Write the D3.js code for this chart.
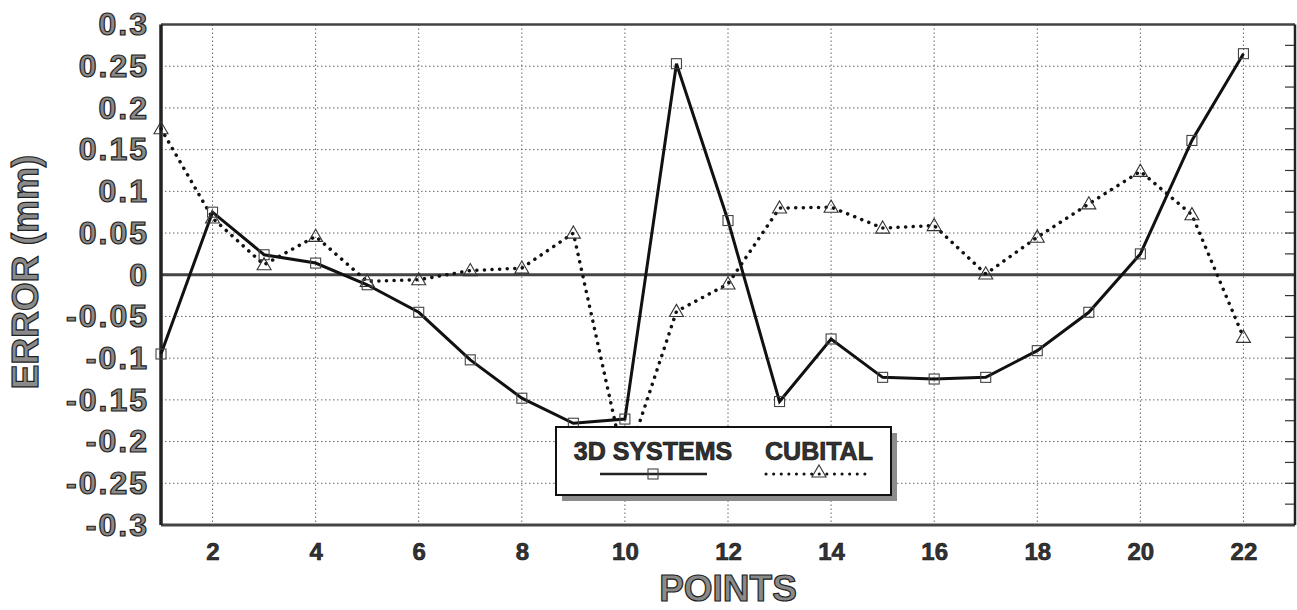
<!DOCTYPE html>
<html>
<head>
<meta charset="utf-8">
<script src="https://cdn.jsdelivr.net/npm/d3@7"></script>
<style>
  body { margin: 0; background: #fff; }
  svg text { font-family: "Liberation Sans", Arial, sans-serif; font-weight: bold; }
</style>
</head>
<body>
<div id="chart"></div>
<script>
const width = 1297;
const height = 610;

// data
const points = d3.range(1, 23);
const systems3d = [-0.095, 0.075, 0.024, 0.014, -0.012, -0.045, -0.102, -0.148, -0.178, -0.173, 0.253,
  0.065, -0.152, -0.077, -0.123, -0.125, -0.123, -0.091, -0.045, 0.025, 0.161, 0.265];
const cubital = [0.175, 0.068, 0.012, 0.046, -0.008, -0.006, 0.005, 0.008, 0.05, -0.23, -0.044,
  -0.011, 0.08, 0.081, 0.056, 0.059, 0.001, 0.045, 0.085, 0.124, 0.072, -0.075];
const xTicks = [2, 4, 6, 8, 10, 12, 14, 16, 18, 20, 22];
const yTicks = [0.3, 0.25, 0.2, 0.15, 0.1, 0.05, 0, -0.05, -0.1, -0.15, -0.2, -0.25, -0.3];
const yTickLabels = ["0.3", "0.25", "0.2", "0.15", "0.1", "0.05", "0", "-0.05", "-0.1", "-0.15", "-0.2", "-0.25", "-0.3"];
const seriesNames = ["3D SYSTEMS", "CUBITAL"];

const plotLeft = 161, plotRight = 1295, plotTop = 24.5, plotBottom = 525;

const svg = d3.select("#chart")
  .append("svg")
  .attr("width", width)
  .attr("height", height);

const x = d3.scaleLinear().domain([1, 23]).range([plotLeft, plotRight]);
const y = d3.scaleLinear().domain([-0.3, 0.3]).range([plotBottom, plotTop]);

// grid lines
svg.append("g")
  .selectAll("line")
  .data(xTicks)
  .enter().append("line")
  .attr("x1", d => x(d)).attr("x2", d => x(d))
  .attr("y1", plotTop).attr("y2", plotBottom)
  .attr("stroke", "#666").attr("stroke-width", 1)
  .attr("stroke-dasharray", "1.5 2.5");

svg.append("g")
  .selectAll("line")
  .data(yTicks.filter(d => d !== 0))
  .enter().append("line")
  .attr("x1", plotLeft).attr("x2", plotRight)
  .attr("y1", d => y(d)).attr("y2", d => y(d))
  .attr("stroke", "#666").attr("stroke-width", 1)
  .attr("stroke-dasharray", "1.5 2.5");

// minor ticks on right border
svg.append("g")
  .selectAll("line")
  .data(d3.range(-0.275, 0.3, 0.025))
  .enter().append("line")
  .attr("x1", plotRight - 10).attr("x2", plotRight)
  .attr("y1", d => y(d)).attr("y2", d => y(d))
  .attr("stroke", "#333").attr("stroke-width", 1.2);

// zero line
svg.append("line")
  .attr("x1", plotLeft).attr("x2", plotRight)
  .attr("y1", y(0)).attr("y2", y(0))
  .attr("stroke", "#444").attr("stroke-width", 3);

// frame
svg.append("line").attr("x1", plotLeft).attr("x2", plotRight).attr("y1", plotTop).attr("y2", plotTop)
  .attr("stroke", "#444").attr("stroke-width", 2.5);
svg.append("line").attr("x1", plotLeft).attr("x2", plotRight).attr("y1", plotBottom).attr("y2", plotBottom)
  .attr("stroke", "#444").attr("stroke-width", 3);
svg.append("line").attr("x1", plotLeft).attr("x2", plotLeft).attr("y1", plotTop).attr("y2", plotBottom)
  .attr("stroke", "#222").attr("stroke-width", 3.5);
svg.append("line").attr("x1", plotRight).attr("x2", plotRight).attr("y1", plotTop).attr("y2", plotBottom)
  .attr("stroke", "#222").attr("stroke-width", 2.5);

// axes labels via d3 axes
const yAxis = d3.axisLeft(y)
  .tickValues(yTicks)
  .tickSize(0)
  .tickPadding(0)
  .tickFormat((d, i) => yTickLabels[i]);

const yG = svg.append("g")
  .attr("transform", `translate(${plotLeft - 14},0)`)
  .call(yAxis);
yG.select(".domain").remove();
yG.selectAll("text")
  .attr("font-size", 32)
  .attr("letter-spacing", 2)
  .attr("dx", 2)
  .attr("fill", "#8a8a8a")
  .attr("stroke", "#222")
  .attr("stroke-width", 1.2);

const xAxis = d3.axisBottom(x)
  .tickValues(xTicks)
  .tickSize(0)
  .tickPadding(0);

const xG = svg.append("g")
  .attr("transform", `translate(0,${plotBottom + 18})`)
  .call(xAxis);
xG.select(".domain").remove();
xG.selectAll("text")
  .attr("font-size", 24)
  .attr("fill", "#333")
  .attr("stroke", "#111")
  .attr("stroke-width", 0.6);

svg.append("text")
  .attr("x", (plotLeft + plotRight) / 2)
  .attr("y", 601)
  .attr("text-anchor", "middle")
  .attr("font-size", 37)
  .attr("fill", "#8a8a8a")
  .attr("stroke", "#222")
  .attr("stroke-width", 1.2)
  .text("POINTS");

svg.append("text")
  .attr("transform", "translate(38,272) rotate(-90)")
  .attr("text-anchor", "middle")
  .attr("font-size", 37)
  .attr("fill", "#8a8a8a")
  .attr("stroke", "#222")
  .attr("stroke-width", 1.2)
  .text("ERROR (mm)");

// series
const line = d3.line()
  .x((d, i) => x(points[i]))
  .y(d => y(d));

svg.append("path")
  .datum(cubital)
  .attr("d", line)
  .attr("fill", "none")
  .attr("stroke", "#111")
  .attr("stroke-width", 3.5)
  .attr("stroke-linecap", "round")
  .attr("stroke-dasharray", "0.1 7.5");

svg.append("path")
  .datum(systems3d)
  .attr("d", line)
  .attr("fill", "none")
  .attr("stroke", "#111")
  .attr("stroke-width", 3);

const tri = d3.symbol().type(d3.symbolTriangle).size(85);

svg.append("g")
  .selectAll("path")
  .data(cubital)
  .enter().append("path")
  .attr("d", tri)
  .attr("transform", (d, i) => `translate(${x(points[i])},${y(d) + 1})`)
  .attr("fill", "none")
  .attr("stroke", "#333")
  .attr("stroke-width", 1.1);

svg.append("g")
  .selectAll("rect")
  .data(systems3d)
  .enter().append("rect")
  .attr("x", (d, i) => x(points[i]) - 5)
  .attr("y", d => y(d) - 5)
  .attr("width", 10)
  .attr("height", 10)
  .attr("fill", "none")
  .attr("stroke", "#444")
  .attr("stroke-width", 1.1);

// legend
const legend = svg.append("g").attr("class", "legend");
legend.append("rect")
  .attr("x", 562).attr("y", 433).attr("width", 335).attr("height", 68)
  .attr("fill", "#8c8c8c");
legend.append("rect")
  .attr("x", 556).attr("y", 427).attr("width", 335).attr("height", 68)
  .attr("fill", "#fff").attr("stroke", "#111").attr("stroke-width", 2);

const legendX = [653, 819];
legend.selectAll("text")
  .data(seriesNames)
  .enter().append("text")
  .attr("x", (d, i) => legendX[i])
  .attr("y", 460)
  .attr("text-anchor", "middle")
  .attr("font-size", 25)
  .attr("fill", "#333")
  .attr("stroke", "#111")
  .attr("stroke-width", 0.7)
  .text(d => d);

legend.append("line")
  .attr("x1", 600).attr("x2", 707).attr("y1", 474).attr("y2", 474)
  .attr("stroke", "#222").attr("stroke-width", 2.5);
legend.append("rect")
  .attr("x", 648).attr("y", 469).attr("width", 10).attr("height", 10)
  .attr("fill", "none").attr("stroke", "#444").attr("stroke-width", 1.1);

legend.append("line")
  .attr("x1", 766).attr("x2", 872).attr("y1", 474).attr("y2", 474)
  .attr("stroke", "#111").attr("stroke-width", 3)
  .attr("stroke-linecap", "round")
  .attr("stroke-dasharray", "0.1 7.5");
legend.append("path")
  .attr("d", tri)
  .attr("transform", "translate(819,473)")
  .attr("fill", "none").attr("stroke", "#333").attr("stroke-width", 1.1);
</script>
</body>
</html>
